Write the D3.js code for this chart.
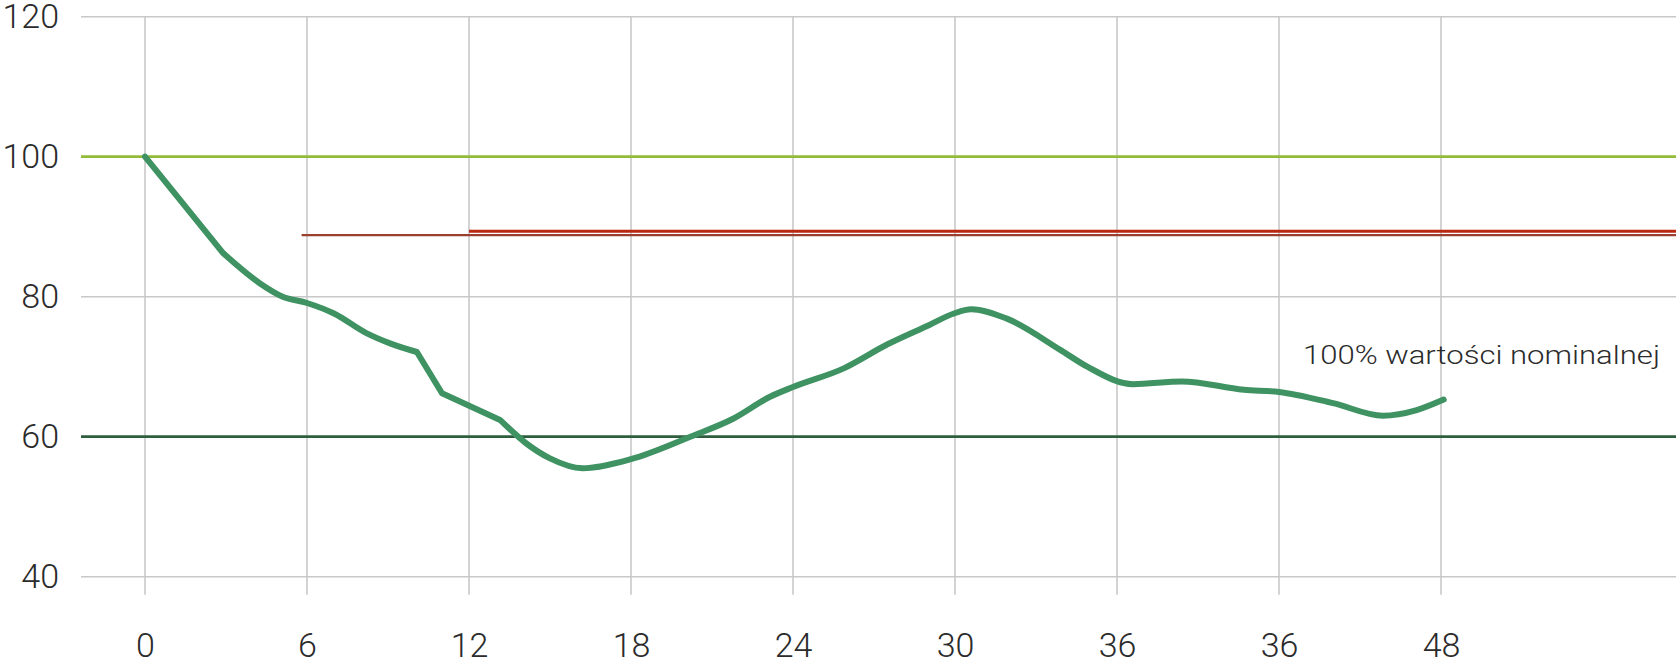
<!DOCTYPE html>
<html>
<head>
<meta charset="utf-8">
<script src="https://cdn.jsdelivr.net/npm/d3@7"></script>
<style>
  html, body { margin: 0; padding: 0; background: #ffffff; }
  svg { display: block; }
  text { font-family: "Roboto", "Open Sans", "Liberation Sans", sans-serif; font-weight: 300; fill: #2b2b2b; }
</style>
</head>
<body>
<svg id="chart" width="1676" height="659"></svg>
<script>
// ---- data ----
const xTickValues = [0, 6, 12, 18, 24, 30, 36, 42, 48];
const xTickLabels = ["0", "6", "12", "18", "24", "30", "36", "36", "48"];
const yTickValues = [40, 60, 80, 100, 120];

const seriesT = [0, 2.9, 4.26, 5.1, 6, 7, 8.2, 9.1, 10.07, 11, 13.15, 14.1, 15.0, 16.2, 18, 20.2, 21.8, 23.15, 24, 25.9, 27.5, 29.07, 29.96, 30.6, 31.9, 33.9, 34.9, 36.6, 38.4, 40.7, 42, 44, 45.85, 47.1, 48.1];
const seriesV = [100, 86.2, 81.9, 80.0, 79.1, 77.6, 74.8, 73.3, 72.1, 66.2, 62.4, 59.1, 56.9, 55.5, 56.8, 60.0, 62.6, 65.7, 67.1, 69.8, 73.2, 76.0, 77.6, 78.2, 76.9, 72.4, 70.0, 67.5, 67.9, 66.7, 66.4, 64.8, 63.0, 63.8, 65.3];
const cornerT = [2.9, 10.07, 11, 13.15];   // sharp bends in the drawn line

const refLevels = [100, 60];           // horizontal reference lines
const refColors = ["#93bb3a", "#2f5e3e"];
const redStart = [5.8, 12];            // red limit lines: start (x units)
const redLevels = [88.8, 89.35];       // red limit lines: value
const redColors = ["#9b4030", "#b8290f"];
const redWidths = [2.2, 3];
const annotation = "100% wartości nominalnej";

// ---- layout ----
const W = 1676, H = 659;
const svg = d3.select("#chart");
const x = d3.scaleLinear().domain([0, 48]).range([145, 1441]);
const y = d3.scaleLinear().domain([40, 120]).range([576.7, 16.7]);
const gridLeft = 81, gridRight = W;

// horizontal grid
svg.append("g").selectAll("line").data(yTickValues).join("line")
  .attr("x1", gridLeft).attr("x2", gridRight)
  .attr("y1", d => y(d)).attr("y2", d => y(d))
  .attr("stroke", "#c8c8c8").attr("stroke-width", 1.6);

// vertical grid (extends below bottom line)
svg.append("g").selectAll("line").data(xTickValues).join("line")
  .attr("x1", d => x(d)).attr("x2", d => x(d))
  .attr("y1", y(120)).attr("y2", y(40) + 18)
  .attr("stroke", "#c8c8c8").attr("stroke-width", 1.6);

// y axis labels
const yAxis = d3.axisLeft(y).tickValues(yTickValues).tickSize(0).tickPadding(0);
const yg = svg.append("g").attr("transform", "translate(59,0)").call(yAxis);
yg.select(".domain").remove();
yg.selectAll("text").attr("font-size", 34).attr("fill", "#2b2b2b");

// x axis labels
const xAxis = d3.axisBottom(x).tickValues(xTickValues)
  .tickFormat((d, i) => xTickLabels[i]).tickSize(0).tickPadding(0);
const xg = svg.append("g").attr("transform", "translate(0,633)").call(xAxis);
xg.select(".domain").remove();
xg.selectAll("text").attr("font-size", 34).attr("fill", "#2b2b2b").attr("dy", "0.72em");
svg.selectAll("g").attr("font-family", null);

// reference lines
svg.append("g").selectAll("line").data(refLevels).join("line")
  .attr("x1", gridLeft).attr("x2", gridRight)
  .attr("y1", d => y(d)).attr("y2", d => y(d))
  .attr("stroke", (d, i) => refColors[i]).attr("stroke-width", 2.8);

// red limit lines
svg.append("g").selectAll("line").data(redLevels).join("line")
  .attr("x1", (d, i) => x(redStart[i])).attr("x2", gridRight)
  .attr("y1", d => y(d)).attr("y2", d => y(d))
  .attr("stroke", (d, i) => redColors[i]).attr("stroke-width", (d, i) => redWidths[i]);

// main series: smooth pieces joined at sharp bends
const pts = seriesT.map((t, i) => [t, seriesV[i]]);
const line = d3.line().x(d => x(d[0])).y(d => y(d[1])).curve(d3.curveMonotoneX);
const pieces = [];
let cur = [];
pts.forEach(p => {
  cur.push(p);
  if (cornerT.includes(p[0])) { pieces.push(cur); cur = [p]; }
});
if (cur.length > 1) pieces.push(cur);
const dPath = pieces.map((pc, i) => {
  const s = line(pc);
  return i === 0 ? s : s.replace(/^M/, "L");
}).join("");
svg.append("path").attr("d", dPath)
  .attr("fill", "none").attr("stroke", "#3f9261").attr("stroke-width", 6)
  .attr("stroke-linecap", "round").attr("stroke-linejoin", "round");

// annotation
svg.append("text").attr("x", 1303).attr("y", 364)
  .attr("font-size", 25).attr("textLength", 357).attr("lengthAdjust", "spacingAndGlyphs")
  .text(annotation);
</script>
</body>
</html>
